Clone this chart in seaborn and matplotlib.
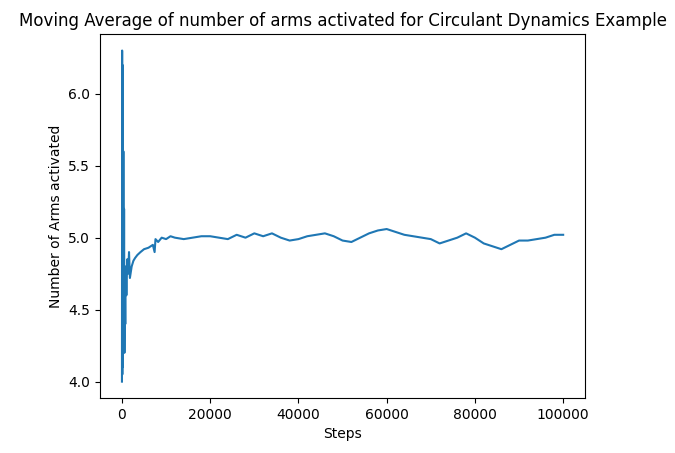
import matplotlib
matplotlib.use("Agg")
import matplotlib.pyplot as plt
import seaborn as sns

steps = [0, 40, 80, 120, 160, 200, 260, 320, 400, 480, 560, 650, 750, 850, 1000, 1200,
         1400, 1600, 1800, 2200, 2600, 3000, 3500, 4200, 5000, 6000, 7000, 7400, 7600, 8200,
         9000, 10000, 11000, 12000, 14000, 16000, 18000, 20000, 22000, 24000, 26000, 28000,
         30000, 32000, 34000, 36000, 38000, 40000, 42000, 44000, 46000, 48000, 50000, 52000,
         54000, 56000, 58000, 60000, 62000, 64000, 66000, 68000, 70000, 72000, 74000, 76000,
         78000, 80000, 82000, 84000, 86000, 88000, 90000, 92000, 94000, 96000, 98000, 100000]
avg_arms = [4.0, 6.3, 4.05, 6.2, 4.1, 6.0, 4.2, 5.6, 4.3, 5.2, 4.2, 4.7, 4.4, 4.8, 4.6, 4.85,
            4.75, 4.9, 4.72, 4.8, 4.84, 4.86, 4.88, 4.9, 4.92, 4.93, 4.95, 4.9, 4.99, 4.97,
            5.0, 4.99, 5.01, 5.0, 4.99, 5.0, 5.01, 5.01, 5.0, 4.99, 5.02, 5.0, 5.03, 5.01,
            5.03, 5.0, 4.98, 4.99, 5.01, 5.02, 5.03, 5.01, 4.98, 4.97, 5.0, 5.03, 5.05, 5.06,
            5.04, 5.02, 5.01, 5.0, 4.99, 4.96, 4.98, 5.0, 5.03, 5.0, 4.96, 4.94, 4.92, 4.95,
            4.98, 4.98, 4.99, 5.0, 5.02, 5.02]

fig, ax = plt.subplots(figsize=(6.75, 4.53), dpi=100)
sns.lineplot(x=steps, y=avg_arms, ax=ax, color="#1f77b4", linewidth=1.5)
ax.set_title("Moving Average of number of arms activated for Circulant Dynamics Example")
ax.set_xlabel("Steps")
ax.set_ylabel("Number of Arms activated")
ax.set_yticks([4.0, 4.5, 5.0, 5.5, 6.0])
plt.subplots_adjust(left=0.148, right=0.867, top=0.925, bottom=0.121)
plt.savefig("out.png")
